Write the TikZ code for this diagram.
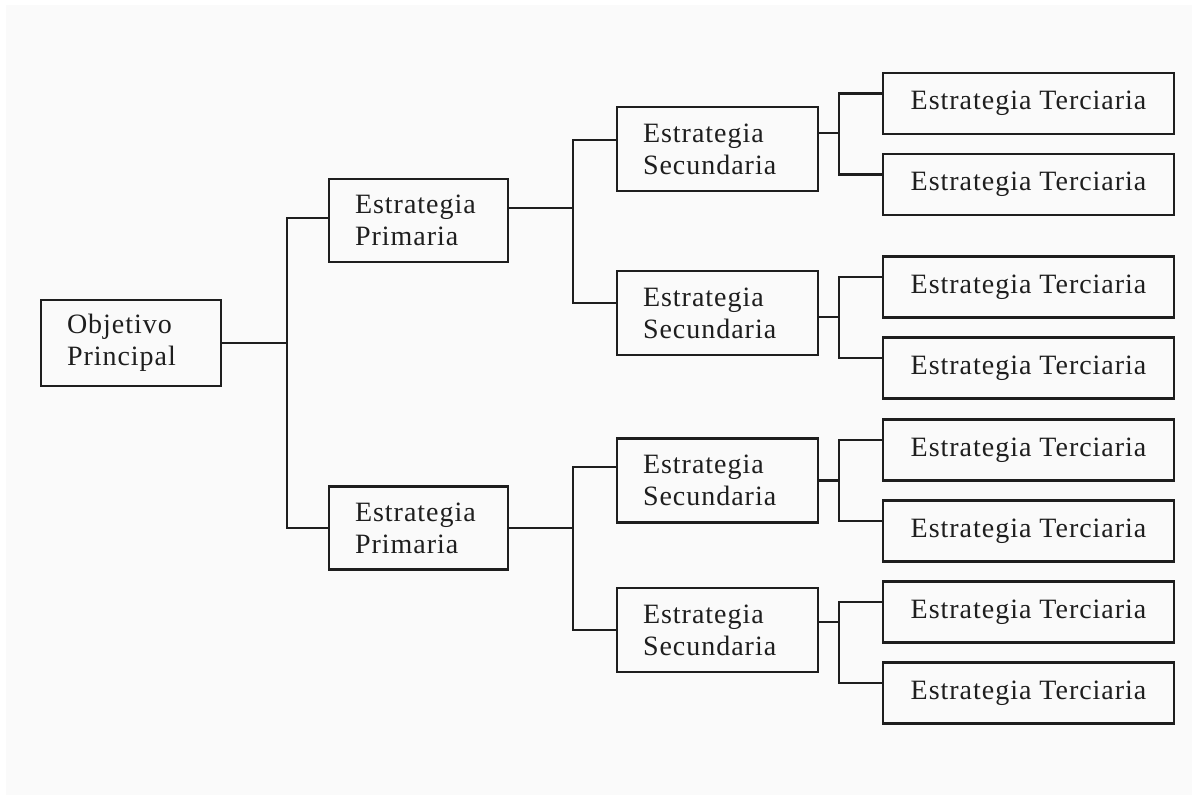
\documentclass[tikz,border=0pt]{standalone}
\usepackage{fontspec}
\setmainfont{Liberation Serif}[LetterSpace=3.5]
\definecolor{ink}{HTML}{1E1E1E}
\definecolor{paper}{HTML}{FAFAFA}
\begin{document}
\begin{tikzpicture}[x=0.5pt,y=-0.5pt,
  box/.style={draw=ink, line width=1.2pt, inner sep=0pt, text=ink,
              font=\fontsize{14}{16}\selectfont},
  obj/.style={box, align=left, text width=64pt, minimum width=90pt, minimum height=43pt},
  prim/.style={box, align=left, text width=63.5pt, minimum width=89.5pt, minimum height=41.5pt},
  sec/.style={box, align=left, text width=74.5pt, minimum width=100.5pt, minimum height=42pt},
  ter/.style={box, align=center, minimum width=145.5pt, minimum height=30.5pt},
  wire/.style={draw=ink, line width=1.1pt}]

% page and paper
\useasboundingbox (0,0) rectangle (1192,795);
\fill[white] (0,0) rectangle (1192,795);
\fill[paper] (6,5) rectangle (1192,795);

% objective
\node[obj] (obj) at (131,343) {Objetivo\\Principal};

% primary strategies
\node[prim] (p1) at (418.5,220.5) {Estrategia\\Primaria};
\node[prim] (p2) at (418.5,528) {Estrategia\\Primaria};

% secondary strategies
\node[sec] (s1) at (717.5,149) {Estrategia\\Secundaria};
\node[sec] (s2) at (717.5,313) {Estrategia\\Secundaria};
\node[sec] (s3) at (717.5,480.5) {Estrategia\\Secundaria};
\node[sec] (s4) at (717.5,630) {Estrategia\\Secundaria};

% tertiary strategies
\node[ter] (t1) at (1028.5,103.5) {Estrategia Terciaria};
\node[ter] (t2) at (1028.5,184.5) {Estrategia Terciaria};
\node[ter] (t3) at (1028.5,287) {Estrategia Terciaria};
\node[ter] (t4) at (1028.5,368) {Estrategia Terciaria};
\node[ter] (t5) at (1028.5,450) {Estrategia Terciaria};
\node[ter] (t6) at (1028.5,531) {Estrategia Terciaria};
\node[ter] (t7) at (1028.5,612) {Estrategia Terciaria};
\node[ter] (t8) at (1028.5,693) {Estrategia Terciaria};

% x positions of the bracket spines
\coordinate (j0) at (287,0);
\coordinate (j1) at (573,0);
\coordinate (j2) at (839,0);

% attachment points on the boxes
\coordinate (p1i) at ([yshift=1.25pt]p1.west);
\coordinate (p2i) at (p2.west);
\coordinate (p1o) at ([yshift=6.25pt]p1.east);
\coordinate (p2o) at (p2.east);
\coordinate (s1i) at ([yshift=4.5pt]s1.west);
\coordinate (s2i) at ([yshift=5pt]s2.west);
\coordinate (s3i) at ([yshift=6.75pt]s3.west);
\coordinate (s4i) at (s4.west);
\coordinate (s1o) at ([yshift=8pt]s1.east);
\coordinate (s2o) at ([yshift=-2pt]s2.east);
\coordinate (s3o) at (s3.east);
\coordinate (s4o) at ([yshift=4pt]s4.east);
\foreach \t in {1,...,8} {\coordinate (t\t i) at ([yshift=5pt]t\t.west);}

% objective -> primary
\draw[wire] (obj.east) -- (obj.east -| j0);
\draw[wire] (p1i) -- (p1i -| j0) -- (p2i -| j0) -- (p2i);

% primary -> secondary
\draw[wire] (p1o) -- (p1o -| j1);
\draw[wire] (s1i) -- (s1i -| j1) -- (s2i -| j1) -- (s2i);
\draw[wire] (p2o) -- (p2o -| j1);
\draw[wire] (s3i) -- (s3i -| j1) -- (s4i -| j1) -- (s4i);

% secondary -> tertiary
\draw[wire] (s1o) -- (s1o -| j2);
\draw[wire] (t1i) -- (t1i -| j2) -- (t2i -| j2) -- (t2i);
\draw[wire] (s2o) -- (s2o -| j2);
\draw[wire] (t3i) -- (t3i -| j2) -- (t4i -| j2) -- (t4i);
\draw[wire] (s3o) -- (s3o -| j2);
\draw[wire] (t5i) -- (t5i -| j2) -- (t6i -| j2) -- (t6i);
\draw[wire] (s4o) -- (s4o -| j2);
\draw[wire] (t7i) -- (t7i -| j2) -- (t8i -| j2) -- (t8i);
\end{tikzpicture}
\end{document}
